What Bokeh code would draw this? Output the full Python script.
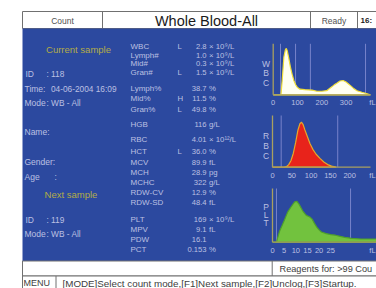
from bokeh.plotting import figure
from bokeh.models import Range1d
from bokeh.core.properties import value
from bokeh.embed import file_html
from bokeh.resources import INLINE

# ---------------- data ----------------
header_texts = ["Count", "Whole Blood-All", "Ready", "16:"]

params = ["WBC", "Lymph#", "Mid#", "Gran#", "Lymph%", "Mid%", "Gran%", "HGB", "RBC",
          "HCT", "MCV", "MCH", "MCHC", "RDW-CV", "RDW-SD", "PLT", "MPV", "PDW", "PCT"]
flags = ["L", "", "", "L", "", "H", "L", "", "", "L", "", "", "", "", "", "", "", "", ""]
values_txt = ["2.8", "1.0", "0.3", "1.5", "38.7", "11.5", "49.8", "116", "4.01", "36.0",
              "89.9", "28.9", "322", "12.9", "48.4", "169", "9.1", "16.1", "0.153"]
units = ["× 10⁹/L", "× 10⁹/L", "× 10⁹/L", "× 10⁹/L", "%", "%", "%", "g/L", "× 10¹²/L", "%",
         "fL", "pg", "g/L", "%", "fL", "× 10⁹/L", "fL", "", "%"]

cur_title = "Current sample"
next_title = "Next sample"
left_labels = ["ID", "Time:", "Mode", "Name:", "Gender:", "Age", "ID", "Mode"]
left_values = [": 118", "04-06-2004  16:09", ": WB - All", "", "", ":", ": 119", ": WB - All"]

wbc_fl = [0, 32, 37, 44, 50, 54, 58, 64, 71, 78, 85, 92, 99, 110, 130, 160, 180, 200, 220,
          236, 250, 263, 275, 288, 300, 318, 330, 345, 365, 380, 400]
wbc_counts = [0, 0, 28, 74, 88, 91, 86, 72, 54, 40, 28, 20, 15, 11, 10, 9, 7, 7, 8,
              14, 19, 23, 27, 28, 25, 18, 13, 8, 5, 3, 0]
wbc_ticks = [0, 100, 200, 300]
wbc_disc = [30, 92, 153, 380]

rbc_fl = [0, 30, 36, 42, 48, 54, 60, 66, 71, 75, 79, 84, 90, 97, 105, 113, 123, 133, 143, 153, 165]
rbc_counts = [0, 0, 1, 5, 13, 27, 48, 72, 84, 87, 83, 72, 60, 46, 34, 25, 17, 10, 5, 2, 0]
rbc_ticks = [0, 50, 100, 150, 200]
rbc_disc = [22.5, 169]

plt_fl = [0, 1.7, 3, 5, 6.5, 8, 9.5, 10.5, 11.5, 13, 14.5, 16, 17, 18, 19, 20, 21, 23, 25,
          27, 29, 31, 34, 38, 42, 45]
plt_counts = [0, 0, 20, 40, 56, 66, 75, 76, 70, 58, 50, 47, 43, 35, 28, 23, 19, 16, 14,
              13, 11, 9, 7, 6, 6, 6]
plt_ticks = [0, 5, 10, 15, 20, 25]
plt_disc = [1.7, 33.5]

reagent_text = "Reagents for: >99 Cou"
menu_label = "MENU"
menu_text = "[MODE]Select count mode,[F1]Next sample,[F2]Unclog,[F3]Startup."

# ---------------- styles / layout ----------------
BLUE = "#2C499F"
TXT = "#BCC0E2"
YEL = "#B3AC48"
AXC = "#A8A060"
DISC = "#7F89CF"
GRAY = "#707070"
FONT = value("Liberation Sans")
NARROW = value("Liberation Sans Narrow, Liberation Sans")

p = figure(width=376, height=288, x_range=Range1d(0, 376), y_range=Range1d(288, 0),
           output_backend="svg", toolbar_location=None, min_border=0)
p.axis.visible = False
p.grid.visible = False
p.outline_line_color = None
p.background_fill_color = "white"
p.border_fill_color = "white"


def txt(xs, ys, texts, size, color, align="left", style="normal", font=FONT):
    p.text(x=xs, y=ys, text=texts, text_font=font, text_font_size=size,
           text_color=color, text_align=align, text_baseline="middle",
           text_font_style=style)


# header
p.quad(left=[22], right=[380], top=[11], bottom=[28], fill_color="white", line_color=GRAY)
p.segment(x0=[102, 310, 357], y0=[11] * 3, x1=[102, 310, 357], y1=[28] * 3, line_color=GRAY)
txt([62], [20], [header_texts[0]], "8.5px", "#505050", "center")
txt([206], [20], [header_texts[1]], "14.5px", "#1A1A1A", "center")
txt([333.5], [20], [header_texts[2]], "8.5px", "#505050", "center")
txt([360], [20], [header_texts[3]], "8px", "#1A1A1A", "left", "bold")

# blue panel
p.quad(left=[22], right=[380], top=[28], bottom=[260.5], fill_color=BLUE, line_color=None)

# bottom rows
p.quad(left=[22], right=[380], top=[260.5], bottom=[275.5], fill_color="white", line_color=GRAY)
p.quad(left=[22], right=[380], top=[275.5], bottom=[292], fill_color="white", line_color=GRAY)
p.segment(x0=[271.7, 55.5], y0=[260.5, 275.5], x1=[271.7, 55.5], y1=[275.5, 292], line_color=GRAY)
txt([279], [268], [reagent_text], "9.2px", "#404040")
txt([23], [282.5], [menu_label], "9px", "#404040")
txt([62], [282.5], [menu_text], "9.8px", "#404040")

# left column
txt([78], [49.3], [cur_title], "9.5px", YEL, "center")
txt([70.5], [194.3], [next_title], "9.5px", YEL, "center")
ly = [73.3, 88.3, 102.7, 131.7, 161.7, 176, 219.3, 233.3]
lx = [25, 24, 24, 24, 24, 24, 25, 24]
vx = [46, 50.5, 46, 0, 0, 54, 46, 46]
txt(lx, ly, left_labels, "8.5px", TXT)
vv = [(x, y, t) for x, y, t in zip(vx, ly, left_values) if t]
txt([a[0] for a in vv], [a[1] for a in vv], [a[2] for a in vv], "8.3px", TXT)

# middle column
my = [46, 54.7, 63.3, 72, 87.5, 98.3, 109, 124.3, 139, 151, 161.7, 171.7, 181.7,
      192.3, 202.3, 219, 229, 239, 249]
n = len(params)
txt([130] * n, my, params, "8px", TXT, font=NARROW)
txt([177] * n, my, flags, "7.8px", TXT)
txt([206] * n, my, values_txt, "7.6px", TXT, "right")
txt([208.5] * n, my, units, "7.8px", TXT)


# histograms
def histogram(fl, cnt, ticks, disc, x0, base, top, pxper, x_end, fill, line, letters, letters_y):
    h = base - top
    xs = [x0 + f * pxper for f in fl]
    ys = [base - c / 100.0 * h for c in cnt]
    xs = [xs[0]] + xs + [xs[-1]]
    ys = [base] + ys + [base]
    dx = [x0 + d * pxper for d in disc]
    p.segment(x0=dx, y0=[top] * len(dx), x1=dx, y1=[base] * len(dx),
              line_color=DISC, line_width=1, line_alpha=0.9)
    p.patch(xs, ys, fill_color=fill, line_color=line, line_width=1.2)
    p.segment(x0=[x0, x0], y0=[top, base], x1=[x0, x_end], y1=[base, base],
              line_color=AXC, line_width=1.3)
    tx = [x0 + t * pxper for t in ticks]
    txt(tx, [base + 8] * len(tx), [str(t) for t in ticks], "7.5px", TXT, "center")
    txt([372], [base + 8], ["fL"], "7.5px", TXT, "center")
    txt([265.5] * len(letters), letters_y, list(letters), "8.5px", TXT, "center")


histogram(wbc_fl, wbc_counts, wbc_ticks, wbc_disc, 272.7, 94.3, 43.3, 0.243, 370,
          "#FFFFF2", "#F0DE3A", "WBC", [63.3, 72.7, 82.3])
histogram(rbc_fl, rbc_counts, rbc_ticks, rbc_disc, 272, 166.7, 115, 0.386, 370,
          "#E8231B", "#E6A62A", "RBC", [135, 145.7, 155.7])
histogram(plt_fl, plt_counts, plt_ticks, plt_disc, 272, 241.7, 188, 2.33, 378,
          "#72C23E", "#4FA02C", "PLT", [206.7, 214.3, 222.3])

open("out.html", "w").write(file_html(p, INLINE))
